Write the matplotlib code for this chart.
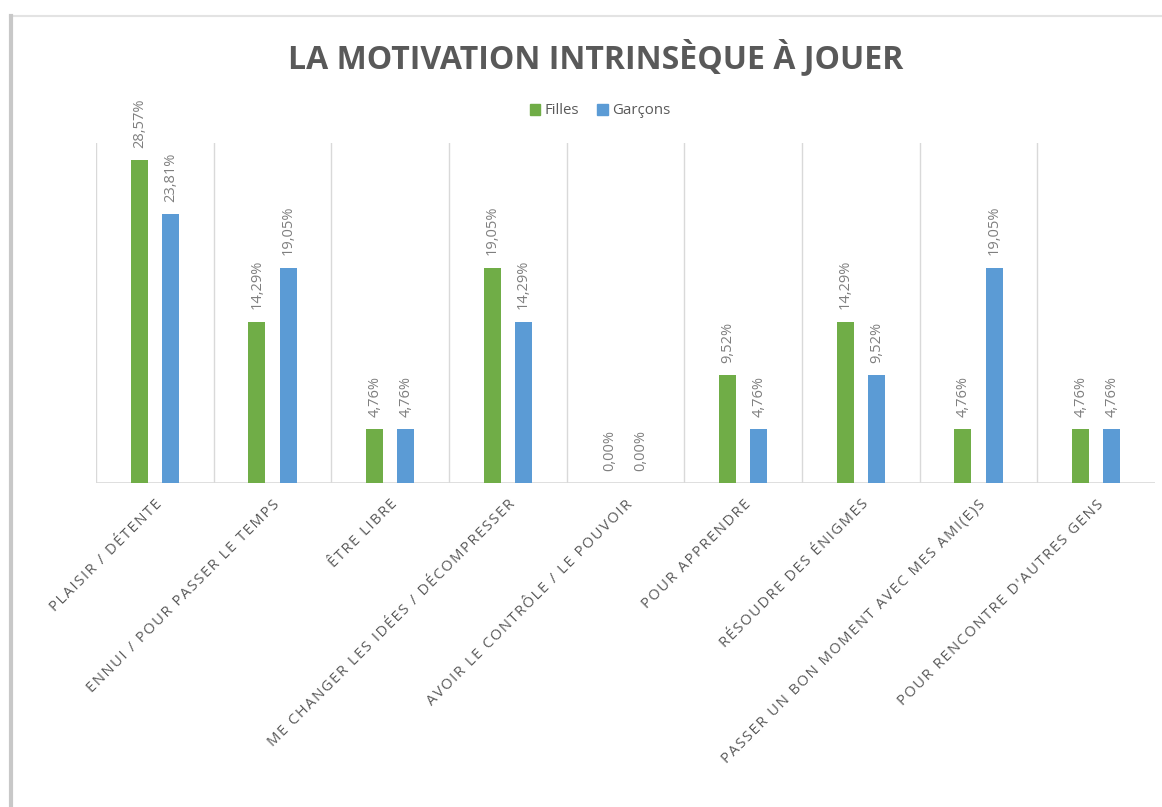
import matplotlib
matplotlib.use("Agg")
import matplotlib.pyplot as plt
import numpy as np
from matplotlib.lines import Line2D
from matplotlib.patches import Patch

categories = ["PLAISIR / DÉTENTE", "ENNUI / POUR PASSER LE TEMPS", "ÊTRE LIBRE",
              "ME CHANGER LES IDÉES / DÉCOMPRESSER", "AVOIR LE CONTRÔLE / LE POUVOIR",
              "POUR APPRENDRE", "RÉSOUDRE DES ÉNIGMES",
              "PASSER UN BON MOMENT AVEC MES AMI(E)S", "POUR RENCONTRE D'AUTRES GENS"]
filles = [28.57, 14.29, 4.76, 19.05, 0.00, 9.52, 14.29, 4.76, 4.76]
garcons = [23.81, 19.05, 4.76, 14.29, 0.00, 4.76, 9.52, 19.05, 4.76]

green = "#70AD47"
blue = "#5B9BD5"
grid_col = "#D9D9D9"
txt = "#595959"

plt.rcParams['font.family'] = ['Open Sans', 'DejaVu Sans']

fig = plt.figure(figsize=(11.62, 8.07), dpi=100)
ax = fig.add_axes([96/1162, 1-483/807, (1155-96)/1162, (483-143)/807])

x = np.arange(len(categories))
w = 0.145
off = 0.132
b1 = ax.bar(x - off, filles, w, color=green, label="Filles", zorder=3)
b2 = ax.bar(x + off, garcons, w, color=blue, label="Garçons", zorder=3)

def spaced(s, sep="\u200a"):
    return sep.join(s)

for bars, vals in ((b1, filles), (b2, garcons)):
    for r, v in zip(bars, vals):
        ax.annotate(f"{v:.2f}%".replace(".", ","),
                    (r.get_x() + r.get_width()/2, r.get_height()),
                    xytext=(0, 9), textcoords="offset points",
                    rotation=90, ha="center", va="bottom",
                    fontsize=10.5, color="#7F7F7F")

ax.set_xlim(-0.5, len(categories) - 0.5)
ax.set_ylim(0, 30.1)
for i in range(len(categories)):
    ax.axvline(i - 0.5, color=grid_col, lw=1, zorder=1)
ax.axhline(0, color=grid_col, lw=1.2, zorder=2)

for s in ax.spines.values():
    s.set_visible(False)
ax.set_yticks([])
ax.set_xticks(x)
ax.set_xticklabels([spaced(c) for c in categories], rotation=45, ha="right",
                   rotation_mode="anchor", fontsize=10.6, color=txt)
ax.tick_params(axis="x", length=0, pad=10)

fig.text(596/1162, 1-58/807, "LA MOTIVATION INTRINSÈQUE À JOUER",
         ha="center", va="center", fontsize=23, fontweight="bold", color=txt)

handles = [Patch(color=green), Patch(color=blue)]
fig.legend(handles, ["Filles", "Garçons"], loc="center",
           bbox_to_anchor=(600/1162, 1-111/807), ncol=2, frameon=False,
           fontsize=10.8, handlelength=0.7, handleheight=0.7,
           handletextpad=0.3, columnspacing=1.2, labelcolor=txt)

# frame of the pasted chart
fig.add_artist(Line2D([10/1162, 1], [1-16/807, 1-16/807], color="#E3E3E3", lw=1.5))
fig.add_artist(Line2D([11/1162, 11/1162], [0, 1-16/807], color="#C8C8C8", lw=3))

fig.savefig("out.png", dpi=100, facecolor="white")
